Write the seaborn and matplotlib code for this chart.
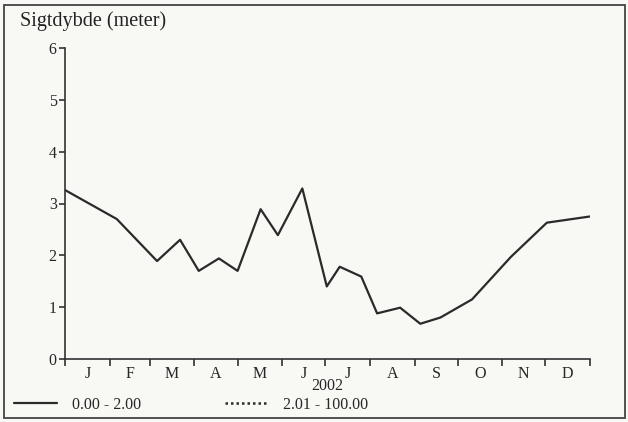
from matplotlib import pyplot as plt
from matplotlib.lines import Line2D
from matplotlib.patches import Rectangle
import seaborn as sns
import pandas as pd

# Sigtdybde 2002, day of year and depth in meters
days = [0, 36, 64, 80, 93, 107, 120, 136, 148, 165, 182, 191, 206, 217,
        233, 247, 261, 283, 310, 335, 365]
depth = [3.26, 2.70, 1.89, 2.30, 1.70, 1.94, 1.70, 2.89, 2.39, 3.29, 1.40,
         1.78, 1.59, 0.88, 0.99, 0.68, 0.80, 1.15, 1.97, 2.63, 2.75]

month_labels = ['J', 'F', 'M', 'A', 'M', 'J', 'J', 'A', 'S', 'O', 'N', 'D']
month_len = [31, 28, 31, 30, 31, 30, 31, 31, 30, 31, 30, 31]
legend_labels = ['0.00 - 2.00', '2.01 - 100.00']

df = pd.DataFrame({'day': days, 'depth': depth})

sns.set_style("ticks")
plt.rcParams['font.family'] = ['Liberation Serif', 'DejaVu Serif']
paper = '#f8f8f4'

fig = plt.figure(figsize=(6.28, 4.22), dpi=100, facecolor=paper)
ax = fig.add_axes([65 / 628, 1 - 359 / 422, 525 / 628, 311 / 422])
ax.set_facecolor(paper)

sns.lineplot(data=df, x='day', y='depth', color='#2a2a2a', linewidth=1.6, ax=ax)

# month boundaries as major ticks, labels centred in each month
edges = [0]
for n in month_len:
    edges.append(edges[-1] + n)
mids = [(a + b) / 2 for a, b in zip(edges[:-1], edges[1:])]
ax.set_xticks(edges)
ax.set_xticklabels([])
ax.set_xticks(mids, minor=True)
ax.set_xticklabels(month_labels, minor=True)
ax.tick_params(axis='x', which='minor', length=0, pad=5, labelsize=11.5)
ax.tick_params(axis='x', which='major', length=5, width=1.2, color='#333333')
ax.tick_params(axis='y', length=4, width=1.2, color='#333333', labelsize=11.5, pad=2)
ax.set_xlim(0, 365)
ax.set_ylim(0, 6)
ax.set_yticks(range(0, 7))
ax.set_xlabel('2002', fontsize=11.5, labelpad=-3)
ax.set_ylabel('')
sns.despine(ax=ax)
for s in ['left', 'bottom']:
    ax.spines[s].set_linewidth(1.2)
    ax.spines[s].set_color('#333333')

fig.text(20 / 628, 1 - 26 / 422, 'Sigtdybde (meter)', fontsize=14.5, color='#222222')

handles = [Line2D([], [], color='#2a2a2a', linewidth=1.6),
           Line2D([], [], color='#2a2a2a', linewidth=1.8, linestyle=(0, (1, 1.2)))]
fig.legend(handles, legend_labels, loc='center left', bbox_to_anchor=(3 / 628, 1 - 405 / 422),
           ncol=2, frameon=False, fontsize=11.5, handlelength=2.7, handletextpad=0.9,
           columnspacing=5.3, borderpad=0.2)

fig.add_artist(Rectangle((4 / 628, 4 / 422), 621 / 628, 413 / 422, transform=fig.transFigure,
                         fill=False, edgecolor='#444444', linewidth=1.3))

fig.savefig('out.png', dpi=100, facecolor=paper)
